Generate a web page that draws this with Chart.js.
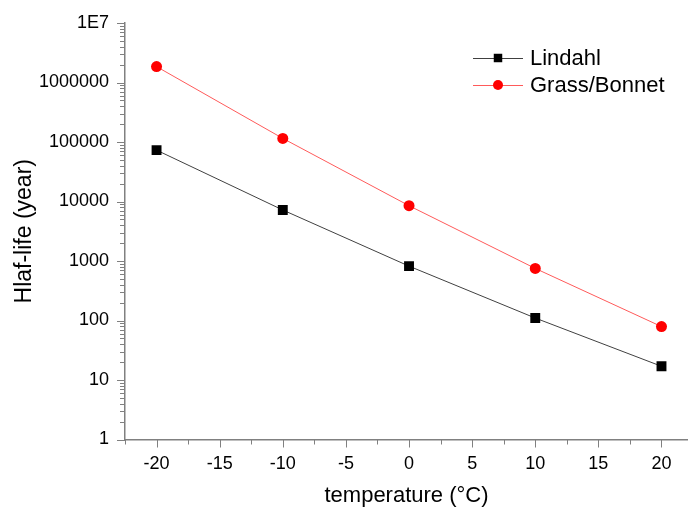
<!DOCTYPE html>
<html>
<head>
<title>Half-life vs temperature</title>
<script src="https://cdn.jsdelivr.net/npm/chart.js"></script>
<style>
    html, body { margin: 0; padding: 0; background: #fff; }
</style>
</head>
<body>
<canvas id="halfLife" width="688" height="507"></canvas>

<script>
    const temps = [-20, -10, 0, 10, 20];
    const lindahl = [73000, 7200, 820, 110, 17];
    const grassBonnet = [1850000, 115000, 8500, 750, 79];
    const seriesNames = ['Lindahl', 'Grass/Bonnet'];
    const xTicks = [-20, -15, -10, -5, 0, 5, 10, 15, 20];
    const yTicks = [1, 10, 100, 1000, 10000, 100000, 1000000, 10000000];
    const yTickLabels = ['1', '10', '100', '1000', '10000', '100000', '1000000', '1E7'];

    const axisColor = '#808080';
    Chart.defaults.font.family = '"Liberation Sans", Arial, sans-serif';
    Chart.defaults.color = '#000';

    // outward tick marks: long at labelled values, short in between
    const tickMarks = {
        id: 'tickMarks',
        afterDraw(chart) {
            const ctx = chart.ctx, x = chart.scales.x, y = chart.scales.y;
            ctx.save();
            ctx.strokeStyle = axisColor;
            ctx.lineWidth = 1;
            ctx.beginPath();
            for (let v = x.min; v <= x.max + 1e-9; v += 2.5) {
                const px = Math.round(x.getPixelForValue(v)) + 0.5;
                const len = (v % 5 === 0) ? 8 : 5;
                ctx.moveTo(px, x.top);
                ctx.lineTo(px, x.top + len);
            }
            for (let d = 1; d <= y.max; d *= 10) {
                for (let m = 1; m < 10; m++) {
                    const v = d * m;
                    if (v > y.max) break;
                    const py = Math.round(y.getPixelForValue(v)) + 0.5;
                    ctx.moveTo(y.right, py);
                    ctx.lineTo(y.right - (m === 1 ? 8 : 5), py);
                }
            }
            ctx.stroke();
            ctx.restore();
        }
    };

    // legend drawn as line + marker + name, top right
    const legendRows = {
        id: 'legendRows',
        afterDraw(chart) {
            const ctx = chart.ctx;
            ctx.save();
            chart.data.datasets.forEach((ds, i) => {
                const yy = 58 + i * 27;
                ctx.strokeStyle = ds.borderColor;
                ctx.lineWidth = 1;
                ctx.beginPath();
                ctx.moveTo(473, yy + 0.5);
                ctx.lineTo(523, yy + 0.5);
                ctx.stroke();
                ctx.fillStyle = ds.pointBackgroundColor;
                Chart.helpers.drawPoint(ctx, {
                    pointStyle: ds.pointStyle,
                    radius: ds.pointStyle === 'rect' ? 6 : 5,
                    borderWidth: 0
                }, 498, yy);
                ctx.fillStyle = '#000';
                ctx.font = '22px "Liberation Sans", Arial, sans-serif';
                ctx.textBaseline = 'middle';
                ctx.fillText(ds.label, 530, yy + 1);
            });
            ctx.restore();
        }
    };

    new Chart(document.getElementById('halfLife'), {
        type: 'line',
        data: {
            datasets: [{
                label: seriesNames[0],
                data: temps.map((t, i) => ({ x: t, y: lindahl[i] })),
                borderColor: '#404040',
                borderWidth: 1,
                pointStyle: 'rect',
                pointRadius: 7,
                pointBackgroundColor: '#000',
                pointBorderWidth: 0
            }, {
                label: seriesNames[1],
                data: temps.map((t, i) => ({ x: t, y: grassBonnet[i] })),
                borderColor: '#ff5a5a',
                borderWidth: 1,
                pointStyle: 'circle',
                pointRadius: 5.5,
                pointBackgroundColor: '#ff0000',
                pointBorderWidth: 0
            }]
        },
        options: {
            responsive: false,
            animation: false,
            devicePixelRatio: 1,
            // no extra room for point markers: axis runs to the canvas edge
            layout: { autoPadding: false, padding: { left: 0, top: 23, right: 0, bottom: 0 } },
            plugins: {
                legend: { display: false },
                tooltip: { enabled: false }
            },
            scales: {
                x: {
                    type: 'linear',
                    min: -22.5,
                    max: 22.1,
                    afterBuildTicks: s => { s.ticks = xTicks.map(v => ({ value: v })); },
                    afterFit: s => { s.height = 67.5; s.paddingRight = 0; },
                    grid: { display: false, drawTicks: false },
                    border: { display: true, color: axisColor, width: 1.5 },
                    ticks: { font: { size: 18 }, padding: 14, maxRotation: 0 },
                    title: {
                        display: true,
                        text: 'temperature (°C)',
                        font: { size: 22 },
                        padding: { top: 0, bottom: -2 }
                    }
                },
                y: {
                    type: 'logarithmic',
                    min: 1,
                    max: 10000000,
                    afterBuildTicks: s => { s.ticks = yTicks.map(v => ({ value: v })); },
                    afterFit: s => { s.width = 125; s.paddingTop = 0; s.paddingBottom = 0; },
                    grid: { display: false, drawTicks: false },
                    border: { display: true, color: axisColor, width: 1.5 },
                    ticks: {
                        font: { size: 18 },
                        padding: 16,
                        callback: v => yTickLabels[yTicks.indexOf(v)]
                    },
                    title: {
                        display: true,
                        text: 'Hlaf-life (year)',
                        font: { size: 23 },
                        padding: { top: 11, bottom: 0 }
                    }
                }
            }
        },
        plugins: [tickMarks, legendRows]
    });
</script>
</body>
</html>
